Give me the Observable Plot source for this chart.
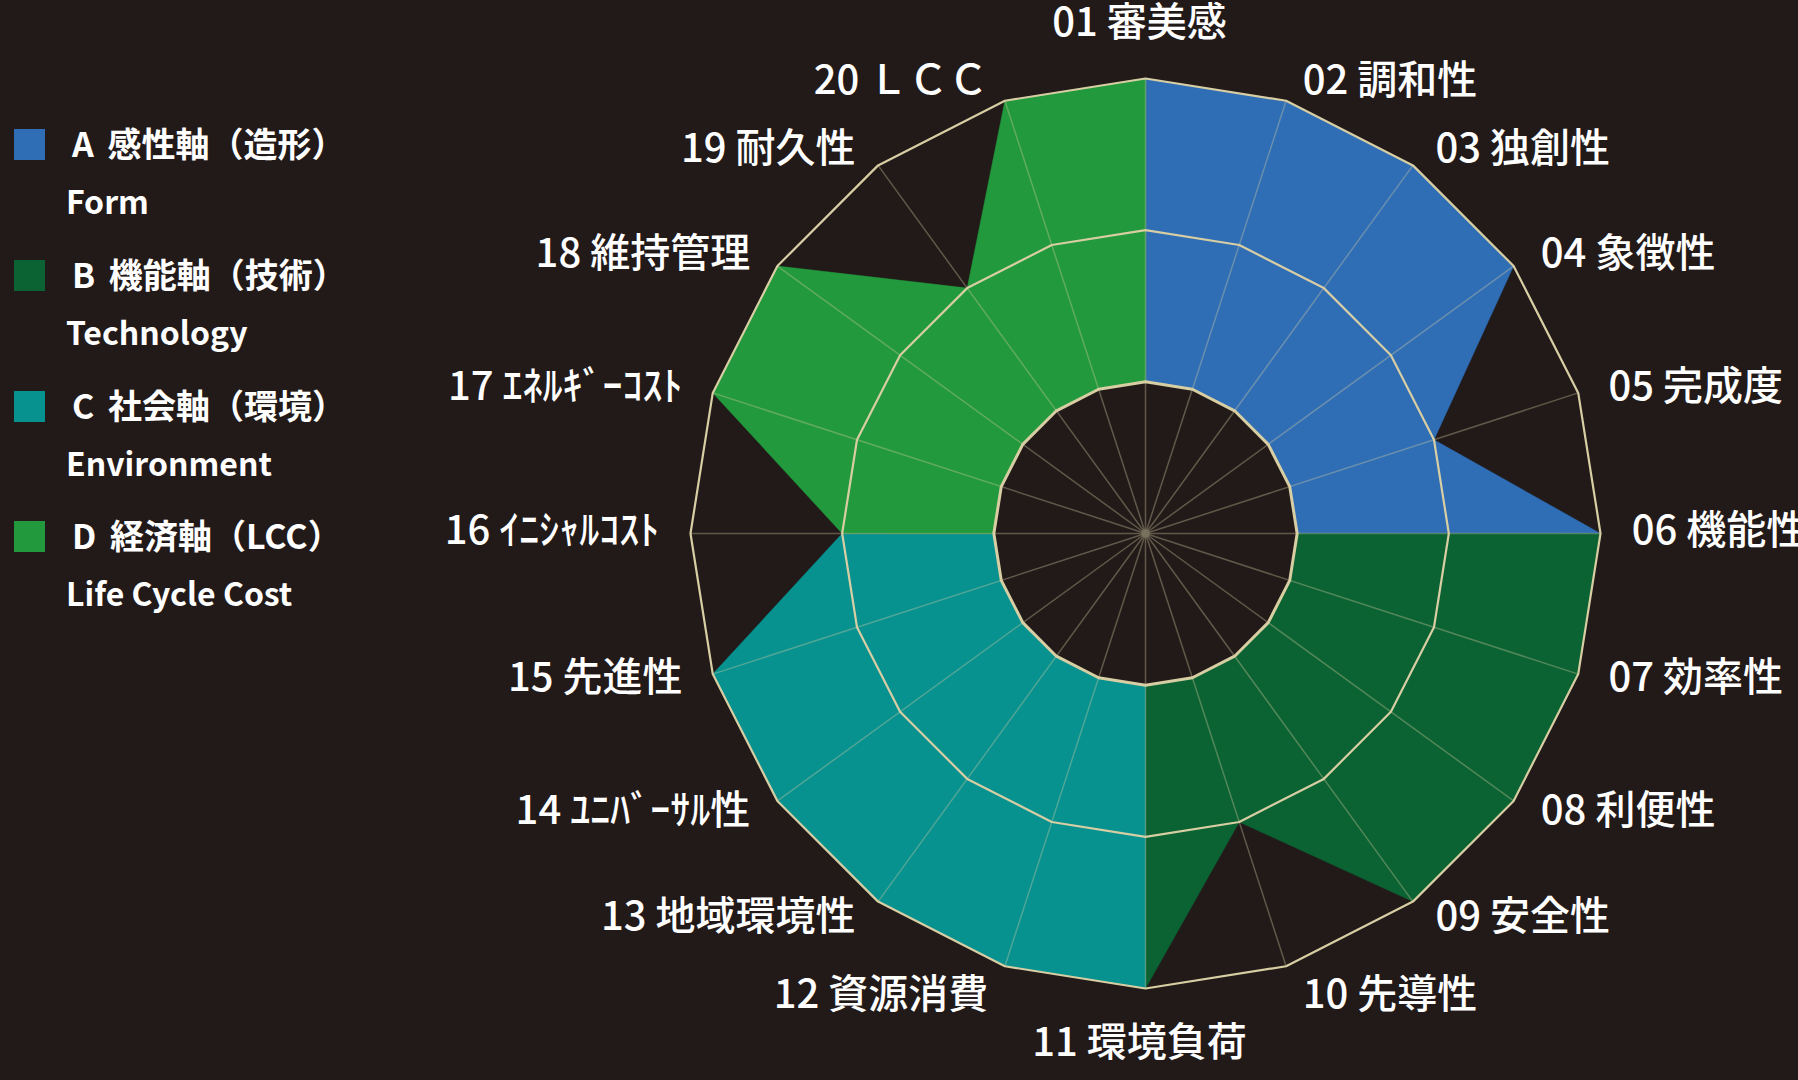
<!DOCTYPE html>
<html>
<head>
<meta charset="utf-8">
<script src="https://cdn.jsdelivr.net/npm/d3@7"></script>
<script src="https://cdn.jsdelivr.net/npm/@observablehq/plot@0.6"></script>
<style>
  html, body { margin: 0; padding: 0; background: #221a19; overflow: hidden; }
  #wrap { position: relative; width: 1798px; height: 1080px; }
  #legend { position: absolute; left: 0; top: 0; width: 400px; height: 700px; font-family: "Noto Sans CJK JP", "Noto Sans", sans-serif; color: #fff; }
  .sw { position: absolute; left: 14px; width: 31px; height: 31px; }
  .l1, .l2 { position: absolute; font-weight: 700; line-height: 1; white-space: nowrap; }
  .l1 { left: 72px; font-size: 34px; word-spacing: 6px; }
  .l2 { left: 66px; font-size: 32px; }
</style>
</head>
<body>
<div id="wrap"><div id="chart"></div><div id="legend"></div></div>
<script>
// ---- data ----
const axisLabels = [
  "01 審美感", "02 調和性", "03 独創性", "04 象徴性", "05 完成度",
  "06 機能性", "07 効率性", "08 利便性", "09 安全性", "10 先導性",
  "11 環境負荷", "12 資源消費", "13 地域環境性", "14 ﾕﾆﾊﾞｰｻﾙ性", "15 先進性",
  "16 ｲﾆｼｬﾙｺｽﾄ", "17 ｴﾈﾙｷﾞｰｺｽﾄ", "18 維持管理", "19 耐久性", "20 ＬＣＣ"
];
const scores = [3, 3, 3, 3, 2, 3, 3, 3, 3, 2, 3, 3, 3, 3, 3, 2, 3, 3, 2, 3];
const ringLevels = [1, 2, 3];
const categoryNames = ["A 感性軸（造形）", "B 機能軸（技術）", "C 社会軸（環境）", "D 経済軸（LCC）"];
const categoryEnglish = ["Form", "Technology", "Environment", "Life Cycle Cost"];
const categoryColors = ["#2f6db5", "#0b6232", "#07918f", "#22993c"];
// first and last axis index (inclusive) bounding each category's sector
const categoryAxisSpan = [[0, 5], [5, 10], [10, 15], [15, 20]];

// ---- helpers ----
const N = axisLabels.length;
const bg = "#221a19";
const beige = "#d8cea4";
const ang = i => (i % N) * 2 * Math.PI / N;
const px = (r, i) => r * Math.sin(ang(i));
const py = (r, i) => r * Math.cos(ang(i));

const sectorRows = categoryAxisSpan.map(([a, b], k) => {
  const rows = [{k, x: 0, y: 0}];
  for (let i = a; i <= b; i++) rows.push({k, x: px(scores[i % N], i), y: py(scores[i % N], i)});
  return rows;
});
const ringRows = ringLevels.flatMap(r => axisLabels.map((_, i) => ({r, x: px(r, i), y: py(r, i)})));
const spokes = axisLabels.map((_, i) => ({i}));
const maxR = d3.max(ringLevels);
const labelR = 3.14;
const labels = axisLabels.map((t, i) => ({t, i, x: px(labelR, i), y: py(labelR, i)}));
const nearBottom = d => Math.abs(d.i - N / 2) === 1;
const rightUp = labels.filter(d => d.i > 0 && d.i < N / 4);
const rightLow = labels.filter(d => d.i >= N / 4 && d.i < N / 2 && !nearBottom(d));
const leftLow = labels.filter(d => d.i > N / 2 && d.i <= 3 * N / 4 && !nearBottom(d));
const leftUp = labels.filter(d => d.i > 3 * N / 4);
const rightBot = labels.filter(d => d.i === N / 2 - 1);
const leftBot = labels.filter(d => d.i === N / 2 + 1);
const topL = labels.filter(d => d.i === 0);
const botL = labels.filter(d => d.i === N / 2);

const font = "Noto Sans CJK JP, Noto Sans, sans-serif";
const txt = {x: "x", y: "y", text: "t", fill: "#ffffff", fontSize: 40, fontFamily: font, fontWeight: 500};

const chart = Plot.plot({
  width: 1798,
  height: 1080,
  margin: 0,
  style: {background: bg, overflow: "visible"},
  x: {domain: [-3, 3], range: [690, 1600], axis: null},
  y: {domain: [-3, 3], range: [988, 78], axis: null},
  marks: [
    ...sectorRows.map((rows, k) => Plot.line(rows, {x: "x", y: "y", fill: categoryColors[k], stroke: categoryColors[k], strokeWidth: 0.5, curve: "linear-closed"})),
    Plot.line(ringRows.filter(d => d.r === 1), {x: "x", y: "y", fill: bg, stroke: "none", curve: "linear-closed"}),
    Plot.link(spokes, {x1: () => 0, y1: () => 0, x2: d => px(maxR, d.i), y2: d => py(maxR, d.i), stroke: beige, strokeOpacity: 0.35, strokeWidth: 1.5}),
    Plot.line(ringRows.filter(d => d.r > 1), {x: "x", y: "y", z: "r", stroke: beige, strokeWidth: 2.2, curve: "linear-closed"}),
    Plot.line(ringRows.filter(d => d.r === 1), {x: "x", y: "y", stroke: beige, strokeWidth: 3, curve: "linear-closed"}),
    Plot.dot([0], {x: () => 0, y: () => 0, r: 4, fill: "#77715e"}),
    Plot.text(rightUp, {...txt, textAnchor: "start", dx: 10, dy: 1}),
    Plot.text(rightLow, {...txt, textAnchor: "start", dx: 10, dy: -2}),
    Plot.text(rightBot, {...txt, textAnchor: "start", dx: 10, dy: 9}),
    Plot.text(leftUp, {...txt, textAnchor: "end", dx: -10, dy: 1}),
    Plot.text(leftLow, {...txt, textAnchor: "end", dx: -10, dy: -2}),
    Plot.text(leftBot, {...txt, textAnchor: "end", dx: -10, dy: 9}),
    Plot.text(topL, {...txt, textAnchor: "middle", dx: -6, dy: -34}),
    Plot.text(botL, {...txt, textAnchor: "middle", dx: -6, dy: 33})
  ]
});
document.getElementById("chart").appendChild(chart);

// ---- legend ----
const legend = document.getElementById("legend");
categoryNames.forEach((name, k) => {
  const top = 129 + k * 130.8;
  const sw = document.createElement("div");
  sw.className = "sw"; sw.style.top = top + "px"; sw.style.background = categoryColors[k];
  const l1 = document.createElement("div");
  l1.className = "l1"; l1.style.top = (top + 15 - 18) + "px"; l1.textContent = name;
  const l2 = document.createElement("div");
  l2.className = "l2"; l2.style.top = (top + 72 - 17) + "px"; l2.textContent = categoryEnglish[k];
  legend.append(sw, l1, l2);
});
</script>
</body>
</html>
